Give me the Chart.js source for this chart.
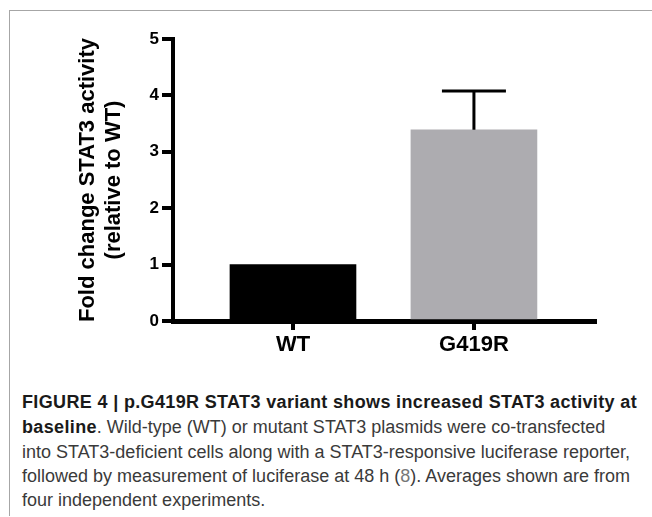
<!DOCTYPE html>
<html>
<head>
<meta charset="utf-8">
<script src="https://cdn.jsdelivr.net/npm/chart.js@4.4.1/dist/chart.umd.min.js"></script>
<style>
  html, body { margin: 0; padding: 0; background: #fff; }
  #wrap { position: relative; width: 652px; height: 517px; overflow: hidden; }
  #frame { position: absolute; left: 9px; top: 10px; width: 700px; height: 505px;
           border-top: 1px solid #a6a6a6; border-left: 1px solid #a6a6a6; }
  #chartBox { position: absolute; left: 0; top: 0; width: 652px; height: 371px; }
  .cap { position: absolute; left: 22px; white-space: nowrap; font-family: "Liberation Sans", Arial, sans-serif;
         font-size: 18px; color: #3a3a3a; line-height: 24px; }
  .cap b { color: #1a1a1a; letter-spacing: 0.35px; }
</style>
</head>
<body>
<div id="wrap">
  <div id="frame"></div>
  <div id="chartBox"><canvas id="grafico"></canvas></div>
  <div class="cap" style="top:390px"><b>FIGURE 4 | p.G419R STAT3 variant shows increased STAT3 activity at</b></div>
  <div class="cap" style="top:415px"><b>baseline</b>. Wild-type (WT) or mutant STAT3 plasmids were co-transfected</div>
  <div class="cap" style="top:440px">into STAT3-deficient cells along with a STAT3-responsive luciferase reporter,</div>
  <div class="cap" style="top:464px">followed by measurement of luciferase at 48 h (<span style="color:#777">8</span>). Averages shown are from</div>
  <div class="cap" style="top:488px">four independent experiments.</div>
</div>
<script>
// dados
const categorias = ['WT', 'G419R'];
const foldChange = [1.0, 3.39];
const erroPadrao = [0, 0.69];
const ticksY = [0, 1, 2, 3, 4, 5];
const cores = ['#000000', '#adacb0'];

// barras de erro (só para cima, estilo GraphPad)
const errorBars = {
  id: 'errorBars',
  afterDatasetsDraw(chart) {
    const ctx = chart.ctx;
    const yScale = chart.scales.y;
    chart.getDatasetMeta(0).data.forEach((bar, i) => {
      if (!erroPadrao[i]) return;
      const yTop = yScale.getPixelForValue(foldChange[i] + erroPadrao[i]);
      ctx.save();
      ctx.strokeStyle = '#000';
      ctx.lineWidth = 3;
      ctx.beginPath();
      ctx.moveTo(bar.x, bar.y);
      ctx.lineTo(bar.x, yTop);
      ctx.moveTo(bar.x - 32, yTop);
      ctx.lineTo(bar.x + 32, yTop);
      ctx.stroke();
      ctx.restore();
    });
  }
};

const ctx = document.getElementById('grafico').getContext('2d');
new Chart(ctx, {
  type: 'bar',
  data: {
    datasets: [{
      data: categorias.map((c, i) => ({ x: i, y: foldChange[i] })),
      backgroundColor: cores,
      borderWidth: 0,
      barThickness: 126
    }]
  },
  options: {
    responsive: true,
    maintainAspectRatio: false,
    animation: false,
    layout: { padding: { top: 39, right: 57, left: 0, bottom: 0 } },
    plugins: {
      legend: { display: false },
      tooltip: { enabled: false }
    },
    scales: {
      x: {
        type: 'linear',
        min: -0.663,
        max: 1.669,
        offset: false,
        afterBuildTicks: (scale) => { scale.ticks = categorias.map((c, i) => ({ value: i })); },
        afterFit: (scale) => { scale.height = 50; },
        border: { display: true, color: '#000', width: 5 },
        grid: { display: true, offset: false, drawOnChartArea: false, drawTicks: true, tickLength: 9, tickWidth: 4, tickColor: '#000', color: '#000', lineWidth: 4 },
        ticks: {
          callback: (v) => categorias[v] ?? '',
          color: '#000',
          padding: 2,
          font: { family: 'Liberation Sans', size: 22, weight: 'bold' },
          maxRotation: 0
        }
      },
      y: {
        min: 0,
        max: 5,
        afterBuildTicks: (scale) => { scale.ticks = ticksY.map(v => ({ value: v })); },
        afterFit: (scale) => { scale.width = 173; },
        border: { display: true, color: '#000', width: 4 },
        grid: { display: true, drawOnChartArea: false, drawTicks: true, tickLength: 11, tickWidth: 4, tickColor: '#000', color: '#000', lineWidth: 4 },
        ticks: {
          color: '#000',
          padding: 3,
          font: { family: 'Liberation Sans', size: 17, weight: 'bold' }
        },
        title: {
          display: true,
          text: ['Fold change STAT3 activity', '(relative to WT)'],
          color: '#000',
          font: { family: 'Liberation Sans', size: 22, weight: 'bold', lineHeight: 1.18 },
          padding: { top: 75, bottom: 0 }
        }
      }
    }
  },
  plugins: [errorBars]
});
</script>
</body>
</html>
